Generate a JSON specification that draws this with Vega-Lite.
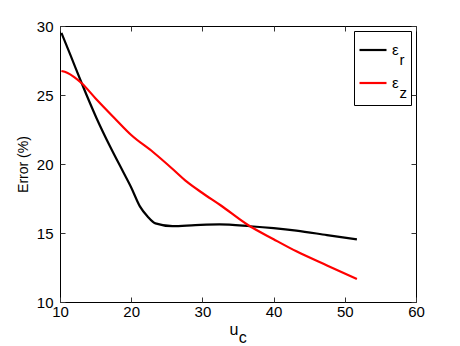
{
  "$schema": "https://vega.github.io/schema/vega-lite/v6.json",
  "width": 356,
  "height": 276,
  "autosize": {"type": "none"},
  "padding": {"left": 60, "top": 26, "right": 44, "bottom": 44},
  "background": "white",
  "config": {
    "font": "Liberation Sans",
    "view": {"stroke": "black", "strokeWidth": 1},
    "axis": {
      "grid": false,
      "domain": false,
      "labelFlush": false,
      "labelFontSize": 15,
      "labelColor": "black",
      "titleFontSize": 14,
      "titleFontWeight": "normal",
      "titleColor": "black"
    }
  },
  "data": {
    "values": [
      {"u": 10.2, "err": 29.5, "s": "r"},
      {"u": 11.5, "err": 27.85, "s": "r"},
      {"u": 13.05, "err": 25.85, "s": "r"},
      {"u": 15.15, "err": 23.3, "s": "r"},
      {"u": 17.0, "err": 21.3, "s": "r"},
      {"u": 18.9, "err": 19.4, "s": "r"},
      {"u": 20.0, "err": 18.3, "s": "r"},
      {"u": 21.2, "err": 16.95, "s": "r"},
      {"u": 22.3, "err": 16.2, "s": "r"},
      {"u": 23.4, "err": 15.7, "s": "r"},
      {"u": 25.8, "err": 15.5, "s": "r"},
      {"u": 29.0, "err": 15.57, "s": "r"},
      {"u": 32.4, "err": 15.62, "s": "r"},
      {"u": 36.7, "err": 15.49, "s": "r"},
      {"u": 40.0, "err": 15.35, "s": "r"},
      {"u": 43.2, "err": 15.17, "s": "r"},
      {"u": 47.5, "err": 14.85, "s": "r"},
      {"u": 51.7, "err": 14.54, "s": "r"},
      {"u": 10.2, "err": 26.74, "s": "z"},
      {"u": 11.0, "err": 26.62, "s": "z"},
      {"u": 12.0, "err": 26.3, "s": "z"},
      {"u": 13.05, "err": 25.85, "s": "z"},
      {"u": 15.0, "err": 24.75, "s": "z"},
      {"u": 17.7, "err": 23.3, "s": "z"},
      {"u": 20.0, "err": 22.1, "s": "z"},
      {"u": 23.1, "err": 20.85, "s": "z"},
      {"u": 25.9, "err": 19.6, "s": "z"},
      {"u": 27.8, "err": 18.72, "s": "z"},
      {"u": 30.0, "err": 17.9, "s": "z"},
      {"u": 32.5, "err": 17.03, "s": "z"},
      {"u": 36.4, "err": 15.58, "s": "z"},
      {"u": 40.0, "err": 14.55, "s": "z"},
      {"u": 43.2, "err": 13.67, "s": "z"},
      {"u": 47.5, "err": 12.65, "s": "z"},
      {"u": 51.7, "err": 11.67, "s": "z"}
    ]
  },
  "layer": [
    {
      "mark": {"type": "line", "strokeWidth": 2.2, "interpolate": "monotone"},
      "encoding": {
        "x": {"field": "u", "type": "quantitative", "scale": {"domain": [10, 60], "nice": false, "zero": false},
              "axis": {"orient": "bottom", "values": [10, 20, 30, 40, 50, 60], "labelPadding": 7,
                       "ticks": true, "tickSize": -5, "tickColor": "#333", "tickWidth": 1,
                       "title": ["u", "\u200b\u2002\u200ac"], "titleAlign": "left", "titleX": 169, "titleLineHeight": 8, "titlePadding": 2, "titleFontSize": 16}},
        "y": {"field": "err", "type": "quantitative", "scale": {"domain": [10, 30], "nice": false, "zero": false},
              "axis": {"orient": "left", "values": [10, 15, 20, 25, 30], "labelPadding": 12,
                       "ticks": true, "tickSize": -5, "tickColor": "#333", "tickWidth": 1,
                       "title": "Error (%)", "titlePadding": 6}},
        "color": {"field": "s", "type": "nominal",
                  "scale": {"domain": ["r", "z"], "range": ["black", "#ff0000"]},
                  "legend": {"orient": "top-right", "offset": 5, "title": null,
                             "strokeColor": "black", "fillColor": "white", "padding": 4,
                             "symbolType": "stroke", "symbolSize": 729, "symbolStrokeWidth": 2.2,
                             "labelFontSize": 15, "labelExpr": "['ε', '\u200b\u2002' + datum.label]",
                             "rowPadding": 0, "labelOffset": 4,
                             "encode": {"labels": {"update": {"lineHeight": {"value": 10}}}}}}
      }
    },
    {
      "mark": {"type": "line", "strokeWidth": 0, "opacity": 0},
      "encoding": {
        "x": {"field": "u", "type": "quantitative",
              "axis": {"orient": "top", "values": [10, 20, 30, 40, 50, 60], "labels": false, "title": null,
                       "ticks": true, "tickSize": -5, "tickColor": "#333", "tickWidth": 1}},
        "y": {"field": "err", "type": "quantitative",
              "axis": {"orient": "right", "values": [10, 15, 20, 25, 30], "labels": false, "title": null,
                       "ticks": true, "tickSize": -5, "tickColor": "#333", "tickWidth": 1}},
        "detail": {"field": "s", "type": "nominal"}
      }
    }
  ],
  "resolve": {"axis": {"x": "independent", "y": "independent"}}
}
